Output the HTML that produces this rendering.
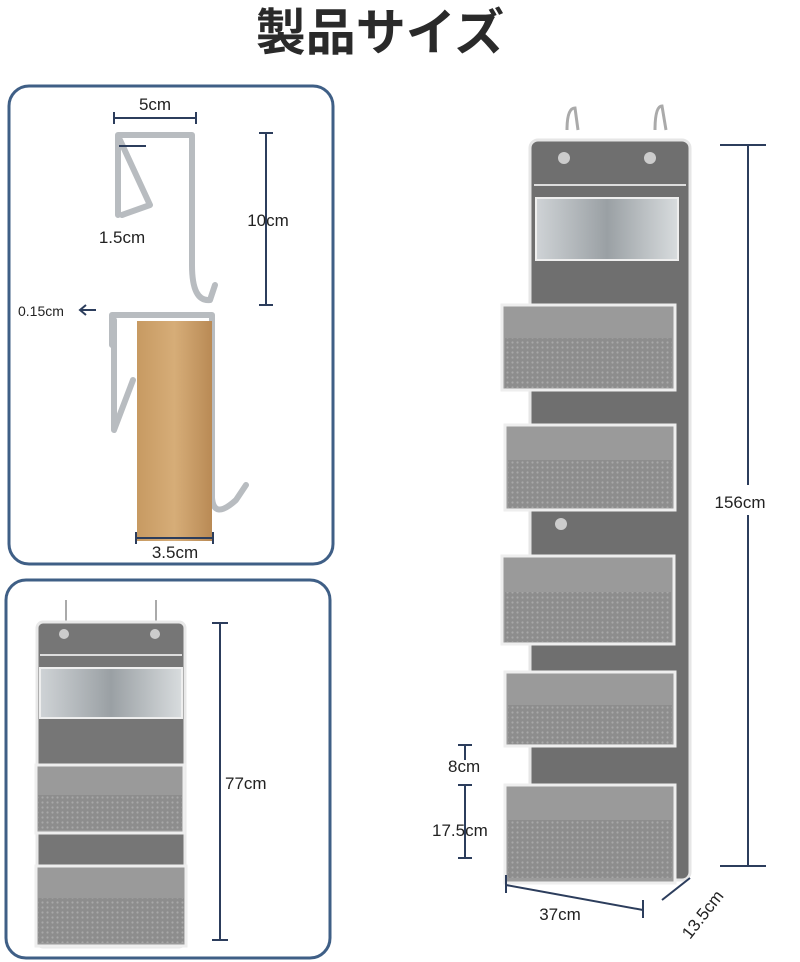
<!DOCTYPE html>
<html><head><meta charset="utf-8"><style>
html,body{margin:0;padding:0;background:#fff;width:800px;height:962px;overflow:hidden}
svg{display:block}
text{font-family:"Liberation Sans","Noto Sans CJK JP",sans-serif;fill:#222}
</style></head><body>
<svg width="800" height="962" viewBox="0 0 800 962" xmlns="http://www.w3.org/2000/svg">
<defs>
<pattern id="mesh" width="5" height="5" patternUnits="userSpaceOnUse">
<rect width="5" height="5" fill="#8d8d8d"/><circle cx="2.5" cy="2.5" r="1.1" fill="#a8a8a8"/></pattern>
<linearGradient id="wood" x1="0" x2="1"><stop offset="0" stop-color="#c79a62"/><stop offset=".5" stop-color="#d6ad78"/><stop offset="1" stop-color="#b98a55"/></linearGradient>
<linearGradient id="clear" x1="0" x2="1"><stop offset="0" stop-color="#cfd3d6"/><stop offset=".5" stop-color="#9aa0a4"/><stop offset="1" stop-color="#d8dcde"/></linearGradient>
</defs>
<text x="380" y="50" font-size="50" font-weight="bold" text-anchor="middle" style="fill:#2a2a2a">製品サイズ</text>

<rect x="9" y="86" width="324" height="478" rx="20" fill="none" stroke="#3f5f86" stroke-width="3"/>
<g fill="none" stroke="#b8bcc0" stroke-width="6" stroke-linejoin="round" stroke-linecap="round">
<path d="M118 215 L118 135 L192 135 L192 265 Q192 302 210 300 L215 285"/>
<path d="M120 140 L150 205 L122 215"/>
<path d="M112 345 L112 315 L212 315 L212 498 Q214 520 236 500 L246 485"/>
<path d="M114 320 L114 430 L133 380"/>
</g>
<rect x="137" y="321" width="75" height="220" fill="url(#wood)"/>
<g stroke="#2c3d5c" stroke-width="2" fill="none">
<line x1="114" y1="118" x2="196" y2="118"/><line x1="114" y1="112" x2="114" y2="124"/><line x1="196" y1="112" x2="196" y2="124"/>
<line x1="266" y1="133" x2="266" y2="305"/><line x1="259" y1="133" x2="273" y2="133"/><line x1="259" y1="305" x2="273" y2="305"/>
<line x1="119" y1="146" x2="146" y2="146"/>
<line x1="136" y1="538" x2="213" y2="538"/><line x1="136" y1="532" x2="136" y2="544"/><line x1="213" y1="532" x2="213" y2="544"/>
<path d="M96 310 L80 310 M86 305 L80 310 L86 315"/>
</g>
<text x="155" y="110" font-size="17" text-anchor="middle">5cm</text>
<text x="122" y="243" font-size="17" text-anchor="middle">1.5cm</text>
<text x="268" y="226" font-size="17" text-anchor="middle">10cm</text>
<text x="18" y="316" font-size="14">0.15cm</text>
<text x="175" y="558" font-size="17" text-anchor="middle">3.5cm</text>

<rect x="6" y="580" width="324" height="378" rx="20" fill="none" stroke="#3f5f86" stroke-width="3"/>
<g>
<line x1="66" y1="600" x2="66" y2="625" stroke="#aaa" stroke-width="2"/><line x1="156" y1="600" x2="156" y2="625" stroke="#aaa" stroke-width="2"/>
<rect x="37" y="622" width="148" height="325" fill="#767676" stroke="#e8e8e8" stroke-width="3" rx="6"/>
<circle cx="64" cy="634" r="5" fill="#ccc"/><circle cx="155" cy="634" r="5" fill="#ccc"/>
<rect x="40" y="668" width="142" height="50" fill="url(#clear)" stroke="#eee" stroke-width="2"/>
<line x1="40" y1="655" x2="182" y2="655" stroke="#ddd" stroke-width="2"/>
<rect x="36" y="765" width="148" height="68" fill="#9a9a9a" stroke="#eee" stroke-width="3"/>
<rect x="38" y="795" width="144" height="35" fill="url(#mesh)"/>
<rect x="36" y="866" width="150" height="80" fill="#9a9a9a" stroke="#eee" stroke-width="3"/>
<rect x="38" y="898" width="146" height="45" fill="url(#mesh)"/>
</g>
<g stroke="#2c3d5c" stroke-width="2"><line x1="220" y1="623" x2="220" y2="940"/><line x1="212" y1="623" x2="228" y2="623"/><line x1="212" y1="940" x2="228" y2="940"/></g>
<text x="225" y="789" font-size="17">77cm</text>

<g>
<path d="M567 130 Q567 108 575 108 L578 130" fill="none" stroke="#aaa" stroke-width="3"/>
<path d="M655 130 Q655 106 662 106 L666 130" fill="none" stroke="#aaa" stroke-width="3"/>
<rect x="530" y="140" width="160" height="740" fill="#6f6f6f" stroke="#e6e6e6" stroke-width="3" rx="8"/>
<circle cx="564" cy="158" r="6" fill="#ccc"/><circle cx="650" cy="158" r="6" fill="#ccc"/>
<line x1="534" y1="185" x2="686" y2="185" stroke="#ddd" stroke-width="2"/>
<rect x="536" y="198" width="142" height="62" fill="url(#clear)" stroke="#eee" stroke-width="2"/>
<circle cx="561" cy="524" r="6" fill="#ccc"/>
<g stroke="#eee" stroke-width="3">
<rect x="502" y="305" width="173" height="85" fill="#9a9a9a"/>
<rect x="505" y="425" width="170" height="85" fill="#9a9a9a"/>
<rect x="502" y="556" width="172" height="88" fill="#9a9a9a"/>
<rect x="505" y="672" width="170" height="74" fill="#9a9a9a"/>
<rect x="505" y="785" width="170" height="98" fill="#9a9a9a"/>
</g>
<rect x="505" y="338" width="167" height="50" fill="url(#mesh)"/>
<rect x="508" y="460" width="164" height="48" fill="url(#mesh)"/>
<rect x="505" y="592" width="166" height="50" fill="url(#mesh)"/>
<rect x="508" y="705" width="164" height="39" fill="url(#mesh)"/>
<rect x="508" y="820" width="164" height="58" fill="url(#mesh)"/>
</g>
<g stroke="#2c3d5c" stroke-width="2">
<line x1="748" y1="145" x2="748" y2="866"/><line x1="720" y1="145" x2="766" y2="145"/><line x1="720" y1="866" x2="766" y2="866"/>
<line x1="465" y1="745" x2="465" y2="760"/><line x1="458" y1="745" x2="472" y2="745"/>
<line x1="465" y1="785" x2="465" y2="858"/><line x1="458" y1="858" x2="472" y2="858"/><line x1="458" y1="785" x2="472" y2="785"/>
<line x1="506" y1="885" x2="643" y2="910"/><line x1="506" y1="875" x2="506" y2="893"/><line x1="643" y1="900" x2="643" y2="918"/>
<line x1="662" y1="900" x2="690" y2="878"/>
</g>
<rect x="710" y="485" width="80" height="30" fill="#fff"/>
<text x="740" y="508" font-size="17" text-anchor="middle">156cm</text>
<text x="448" y="772" font-size="17">8cm</text>
<text x="432" y="836" font-size="17">17.5cm</text>
<text x="560" y="920" font-size="17" text-anchor="middle">37cm</text>
<text x="0" y="0" font-size="17" transform="translate(690 940) rotate(-52)">13.5cm</text>
</svg>
</body></html>
